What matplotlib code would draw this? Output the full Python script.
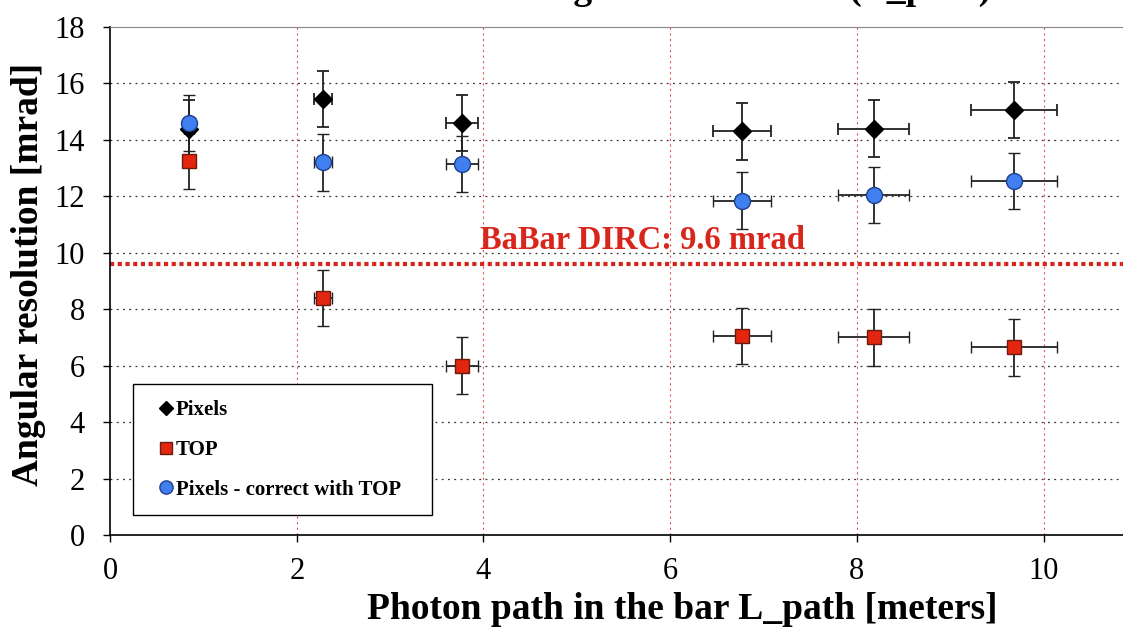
import numpy as np
import matplotlib
matplotlib.use("Agg")
import matplotlib.pyplot as plt

plt.rcParams['font.family'] = ['Liberation Serif', 'DejaVu Serif']

# photon path in the bar [m] and its spread
path = [0.85, 2.28, 3.77, 6.77, 8.18, 9.68]
path_err = [0.05, 0.10, 0.17, 0.31, 0.38, 0.46]

# angular resolution [mrad]
pixels = [14.4, 15.45, 14.6, 14.3, 14.4, 15.05]
top = [13.25, 8.4, 6.0, 7.05, 7.0, 6.65]
pixels_top = [14.6, 13.2, 13.15, 11.85, 12.05, 12.55]
res_err = [1.0, 1.0, 1.0, 1.0, 1.0, 1.0]

babar_dirc = 9.6

fig = plt.figure(figsize=(11.23, 6.28), dpi=100)
ax = fig.add_axes([0.098, 0.148, 0.902, 0.809])

ax.set_xlim(0, 10.85)
ax.set_ylim(0, 18)
ax.set_xticks(np.arange(0, 11, 2))
ax.set_yticks(np.arange(0, 19, 2))

for y in range(2, 18, 2):
    ax.axhline(y, color='#333333', lw=0.9, ls=(0, (1.5, 3.5)), zorder=1)
for x in range(2, 11, 2):
    ax.axvline(x, color='#e05a5a', lw=0.8, ls=(0, (2, 3)), zorder=1)

# reference resolution of the BaBar DIRC
ax.axhline(babar_dirc, color='#d9261c', lw=3.0, ls=(0, (1, 0.85)), zorder=2)
ax.text(3.96, babar_dirc + 0.3, 'BaBar DIRC: %.1f mrad' % babar_dirc,
        color='#d9261c', fontsize=23.5, fontweight='bold', va='bottom', zorder=3)

eb = dict(ecolor='#222222', elinewidth=1.3, capsize=4, capthick=1.3, ls='none', zorder=4)
ax.errorbar(path, pixels, xerr=path_err, yerr=res_err, fmt='D', ms=9,
            mfc='black', mec='black', **eb)
ax.errorbar(path, top, xerr=path_err, yerr=res_err, fmt='s', ms=10,
            mfc='#e3260f', mec='#6b1a10', mew=1, **eb)
ax.errorbar(path, pixels_top, xerr=path_err, yerr=res_err, fmt='o', ms=11.5,
            mfc='#3f7ff0', mec='#1f3f8a', mew=1, **eb)

# legend shows markers only
h1, = ax.plot([], [], 'D', ms=7.5, mfc='black', mec='black')
h2, = ax.plot([], [], 's', ms=8.5, mfc='#e3260f', mec='#6b1a10', mew=1)
h3, = ax.plot([], [], 'o', ms=9.5, mfc='#3f7ff0', mec='#1f3f8a', mew=1)
leg = ax.legend([h1, h2, h3], ['Pixels', 'TOP', 'Pixels - correct with TOP'],
                loc='lower left', bbox_to_anchor=(0.0227, 0.039, 0.295, 0.25),
                mode='expand', borderaxespad=0, fancybox=False, framealpha=1,
                edgecolor='black', prop={'weight': 'bold', 'size': 15},
                labelspacing=0.95, borderpad=0.75, handlelength=1.65,
                handletextpad=-0.35)
leg.get_frame().set_linewidth(1.0)
leg.set_zorder(5)

ax.spines['right'].set_visible(False)
ax.spines['top'].set_color('#888888')
ax.spines['left'].set_linewidth(1.2)
ax.spines['bottom'].set_linewidth(1.2)
ax.tick_params(labelsize=22, length=5, width=1, direction='out')
ax.tick_params(axis='x', pad=11)
ax.tick_params(axis='y', pad=13)

ax.set_xlabel('Photon path in the bar L_path [meters]', fontsize=27,
              fontweight='bold')
ax.set_ylabel('Angular resolution [mrad]', fontsize=27, fontweight='bold')
ax.xaxis.set_label_coords(0.565, -0.112)
ax.yaxis.set_label_coords(-0.063, 0.512)

fig.text(0.31, 1.0 + 1.5 / 628, 'Cherenkov angle resolution vs. (L_path)',
         fontsize=27, fontweight='bold', va='baseline', ha='left')

fig.savefig('out.png', dpi=100)
